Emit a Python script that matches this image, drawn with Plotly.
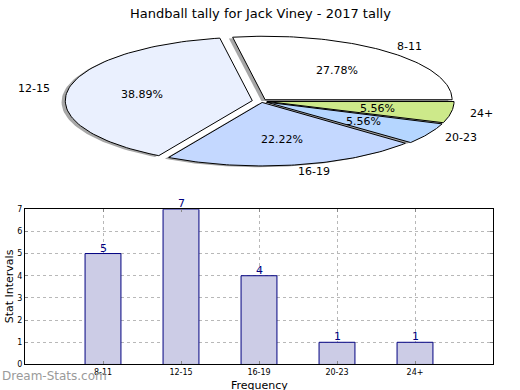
import math
import plotly.graph_objects as go

# ---- data ----
categories = ["8-11", "12-15", "16-19", "20-23", "24+"]
counts = [5, 7, 4, 1, 1]
slice_colors = ["#ffffff", "#eaf0fe", "#c4d8ff", "#b5d6ff", "#cde98a"]
explode = [0.03, 0.05, 0.02, 0.03, 0.03]
y_ticks = [0, 1, 2, 3, 4, 5, 6, 7]

title_text = "Handball tally for Jack Viney - 2017 tally"
FONT = "DejaVu Sans"
W, H = 520, 390

# pixel geometry of the tilted pie (radius 1 in data units)
RX, RY = 187.0, 65.0
CX, CY = 261.5, 99.5
PIE_TOP_FRAC = 0.55  # y2 domain bottom

fig = go.Figure()

total = float(sum(counts))
shadow_dx, shadow_dy = -0.02, -0.02


def wedge(t1, t2, ox, oy, n=80):
    xs, ys = [ox], [oy]
    for i in range(n + 1):
        t = math.radians(t1 + (t2 - t1) * i / n)
        xs.append(ox + math.cos(t))
        ys.append(oy + math.sin(t))
    xs.append(ox)
    ys.append(oy)
    return xs, ys


annotations = []
theta = 0.0
wedges = []
for cat, val, col, ex in zip(categories, counts, slice_colors, explode):
    span = 360.0 * val / total
    t1, t2 = theta, theta + span
    mid = math.radians((t1 + t2) / 2)
    ox, oy = ex * math.cos(mid), ex * math.sin(mid)
    wedges.append((t1, t2, ox, oy, col, cat, val, mid))
    theta = t2

for t1, t2, ox, oy, col, cat, val, mid in wedges:
    xs, ys = wedge(t1, t2, ox + shadow_dx, oy + shadow_dy)
    fig.add_trace(go.Scatter(x=xs, y=ys, xaxis="x2", yaxis="y2", mode="lines",
                             fill="toself", fillcolor="rgba(80,80,80,0.5)",
                             line=dict(width=0), hoverinfo="skip", showlegend=False))

for t1, t2, ox, oy, col, cat, val, mid in wedges:
    xs, ys = wedge(t1, t2, ox, oy)
    fig.add_trace(go.Scatter(x=xs, y=ys, xaxis="x2", yaxis="y2", mode="lines",
                             fill="toself", fillcolor=col,
                             line=dict(color="black", width=1), hoverinfo="skip",
                             showlegend=False))
    lx = ox + 1.1 * math.cos(mid)
    ly = oy + 1.1 * math.sin(mid)
    right_side = lx > 0
    annotations.append(dict(x=lx, y=ly, xref="x2", yref="y2", text=cat,
                            showarrow=False, xanchor="left" if right_side else "right",
                            xshift=-2 if right_side else 2,
                            yanchor="middle", font=dict(family=FONT, size=11, color="black")))
    px = ox + 0.6 * math.cos(mid)
    py = oy + 0.6 * math.sin(mid)
    annotations.append(dict(x=px, y=py, xref="x2", yref="y2",
                            text="%.2f%%" % (100.0 * val / total),
                            showarrow=False, xanchor="center", yanchor="middle",
                            font=dict(family=FONT, size=11, color="black")))

# ---- bar chart ----
xs_bar = list(range(len(categories)))
fig.add_trace(go.Bar(x=xs_bar, y=counts, width=0.46,
                     marker=dict(color="#ccccE6", line=dict(color="#000080", width=1)),
                     hoverinfo="skip", showlegend=False, xaxis="x", yaxis="y"))
for xi, c in zip(xs_bar, counts):
    annotations.append(dict(x=xi, y=c, xref="x", yref="y", text=str(c),
                            showarrow=False, xanchor="center", yanchor="bottom",
                            yshift=-3, font=dict(family=FONT, size=11, color="#000080")))

annotations.append(dict(x=0.5, y=1 - 10 / H, xref="paper", yref="paper", text=title_text,
                        showarrow=False, xanchor="center", yanchor="middle",
                        font=dict(family=FONT, size=13, color="black")))
annotations.append(dict(x=9 / W, y=(H - 289) / H, xref="paper", yref="paper",
                        text="Stat Intervals", textangle=-90, showarrow=False,
                        xanchor="center", yanchor="middle",
                        font=dict(family=FONT, size=11, color="black")))
annotations.append(dict(x=259 / W, y=(H - 391) / H, xref="paper", yref="paper",
                        text="Frequency", showarrow=False, xanchor="center",
                        yanchor="middle", font=dict(family=FONT, size=11, color="black")))
annotations.append(dict(x=0, y=(H - 380.5) / H, xref="paper", yref="paper",
                        text="Dream-Stats.com", showarrow=False, xanchor="left",
                        yanchor="middle",
                        font=dict(family=FONT, size=12, color="#9a9a9a")))

pie_h = H * (1 - PIE_TOP_FRAC)
fig.update_layout(
    width=W, height=H, autosize=False,
    margin=dict(l=0, r=0, t=0, b=0),
    paper_bgcolor="white", plot_bgcolor="rgba(0,0,0,0)",
    font=dict(family=FONT, color="black"),
    annotations=annotations,
    xaxis=dict(domain=[25 / W, 493 / W], range=[-1, 5],
               tickmode="array", tickvals=xs_bar, ticktext=categories,
               tickfont=dict(family=FONT, size=8, color="black"),
               showline=True, linecolor="black", linewidth=1, mirror="ticks",
               ticks="inside", ticklen=3, tickcolor="#888",
               showgrid=True, gridcolor="#b8b8b8", griddash="dot", gridwidth=1,
               zeroline=False, fixedrange=True),
    yaxis=dict(domain=[(H - 369) / H, (H - 210) / H], range=[0, 7],
               tickmode="array", tickvals=y_ticks,
               tickfont=dict(family=FONT, size=8, color="black"),
               showline=True, linecolor="black", linewidth=1, mirror="ticks",
               ticks="inside", ticklen=3, tickcolor="#888",
               showgrid=True, gridcolor="#b8b8b8", griddash="dot", gridwidth=1,
               zeroline=False, fixedrange=True),
    xaxis2=dict(domain=[0, 1], anchor="y2",
                range=[-CX / RX, (W - CX) / RX], visible=False, fixedrange=True),
    yaxis2=dict(domain=[PIE_TOP_FRAC, 1], anchor="x2",
                range=[-(pie_h - CY) / RY, CY / RY], visible=False, fixedrange=True),
)

post = ("var d=document.getElementById('{plot_id}');"
        "d.style.position='fixed';d.style.top='0px';d.style.left='0px';"
        "document.documentElement.style.overflow='hidden';"
        "document.body.style.margin='0';document.body.style.padding='0';"
        "document.body.style.overflow='hidden';")
fig.write_html("out.html", config={"displayModeBar": False}, post_script=post)
